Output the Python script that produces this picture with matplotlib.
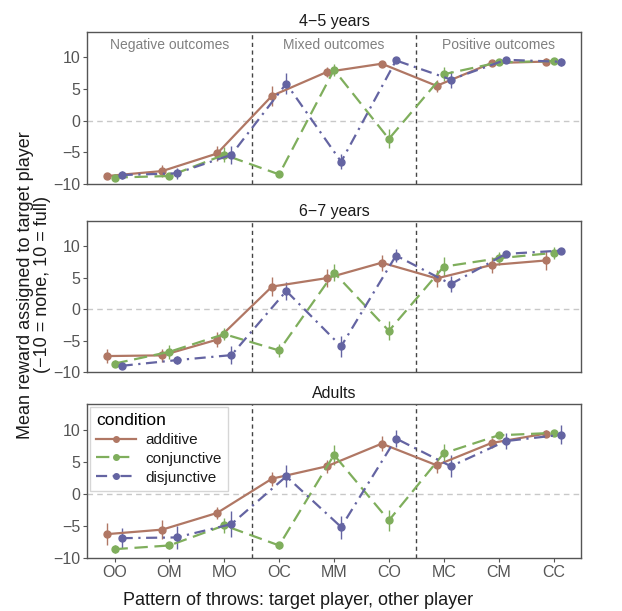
import matplotlib
matplotlib.use("Agg")
import matplotlib.pyplot as plt
import numpy as np

plt.rcParams['font.family'] = ['Liberation Sans', 'DejaVu Sans']

categories = ["OO", "OM", "MO", "OC", "MM", "CO", "MC", "CM", "CC"]
conditions = ["additive", "conjunctive", "disjunctive"]
panels = ["4\u22125 years", "6\u22127 years", "Adults"]
regions = ["Negative outcomes", "Mixed outcomes", "Positive outcomes"]

# means[panel][condition]
add_45 = [-8.75, -7.97, -5.2, 3.9, 7.66, 8.96, 5.47, 9.06, 9.3]
con_45 = [-9.0, -8.75, -5.4, -8.5, 8.0, -2.9, 7.3, 9.17, 9.4]
dis_45 = [-8.6, -8.33, -5.4, 5.83, -6.5, 9.48, 6.46, 9.58, 9.27]
add_45_err = [0.5, 1.0, 1.2, 1.6, 0.8, 0.4, 1.0, 0.4, 0.5]
con_45_err = [0.5, 0.5, 1.2, 0.4, 0.9, 1.5, 1.1, 0.3, 0.4]
dis_45_err = [0.7, 0.9, 1.4, 1.6, 1.2, 0.3, 1.3, 0.3, 0.6]

add_67 = [-7.45, -7.34, -4.84, 3.6, 4.95, 7.4, 4.9, 7.03, 7.76]
con_67 = [-8.65, -6.77, -3.96, -6.56, 5.83, -3.44, 6.77, 8.1, 8.96]
dis_67 = [-9.0, -8.1, -7.3, 2.9, -5.9, 8.54, 4.0, 8.8, 9.32]
add_67_err = [1.1, 1.0, 1.2, 1.5, 1.4, 1.3, 1.3, 1.3, 1.5]
con_67_err = [0.6, 1.1, 1.0, 1.0, 1.3, 1.5, 1.5, 1.0, 1.0]
dis_67_err = [0.5, 0.6, 1.4, 1.5, 1.7, 1.0, 1.3, 0.5, 0.4]

add_ad = [-6.3, -5.6, -3.0, 2.34, 4.27, 7.8, 4.43, 7.9, 9.38]
con_ad = [-8.65, -8.07, -4.95, -8.07, 6.04, -4.17, 6.3, 9.1, 9.48]
dis_ad = [-6.93, -6.82, -4.74, 2.7, -5.2, 8.6, 4.27, 8.2, 9.17]
add_ad_err = [1.7, 1.5, 1.0, 1.1, 1.0, 1.2, 1.2, 0.8, 0.6]
con_ad_err = [0.6, 0.6, 1.2, 0.5, 1.6, 1.6, 1.5, 0.4, 0.3]
dis_ad_err = [1.6, 1.8, 2.0, 1.7, 1.8, 1.4, 1.7, 1.2, 1.5]

means = [[add_45, con_45, dis_45], [add_67, con_67, dis_67], [add_ad, con_ad, dis_ad]]
errs = [[add_45_err, con_45_err, dis_45_err], [add_67_err, con_67_err, dis_67_err],
        [add_ad_err, con_ad_err, dis_ad_err]]

colors = ["#b07764", "#7fae5c", "#6464a2"]
dashes = [None, (6, 3), (5, 2.5, 1, 2.5)]
offsets = [-0.13, 0.0, 0.13]

fig = plt.figure(figsize=(6.22, 6.11), dpi=100)
boxes = [(0.140, 0.699, 0.794, 0.249), (0.140, 0.391, 0.794, 0.247), (0.140, 0.087, 0.794, 0.252)]
frame_col = "#555555"
tick_col = "#555555"
x = np.arange(len(categories))
axes = []
for p, box in enumerate(boxes):
    ax = fig.add_axes(box)
    axes.append(ax)
    ax.set_xlim(-0.5, 8.5)
    ax.set_ylim(-10, 14)
    ax.axhline(0, color="#c8c8c8", lw=1.0, ls=(0, (4, 3)), zorder=1)
    for xv in (2.5, 5.5):
        ax.axvline(xv, color="#444444", lw=1.0, ls=(0, (3, 2.5)), zorder=1)
    for c in range(3):
        xs = x + offsets[c]
        ax.errorbar(xs, means[p][c], yerr=errs[p][c], fmt='none', ecolor=colors[c],
                    elinewidth=1.0, capsize=0, zorder=3)
        line, = ax.plot(xs, means[p][c], color=colors[c], lw=1.6, marker='o', ms=5,
                        label=conditions[c], zorder=4)
        if dashes[c] is not None:
            line.set_dashes(dashes[c])
    ax.set_title(panels[p], fontsize=11.5, color="#1a1a1a", pad=4)
    ax.set_yticks([-10, -5, 0, 5, 10])
    ax.set_yticklabels(["\u221210", "\u22125", "0", "5", "10"])
    ax.tick_params(axis='y', labelsize=11.5, colors=tick_col, length=3, width=0.8, pad=2)
    ax.set_xticks(x)
    if p == 2:
        ax.set_xticklabels(categories)
        ax.tick_params(axis='x', labelsize=11.5, colors=tick_col, length=3, width=0.8, pad=2)
    else:
        ax.set_xticklabels([])
        ax.tick_params(axis='x', length=0)
    for s in ax.spines.values():
        s.set_color(frame_col)
        s.set_linewidth(1.0)

for i, r in enumerate(regions):
    axes[0].text(1 + 3 * i, 11.9, r, ha='center', va='center', fontsize=10, color="#808080")

leg = axes[2].legend(loc='upper left', title="condition", fontsize=11, title_fontsize=12.5,
                     frameon=True, fancybox=False, handlelength=2.6, borderaxespad=0.2,
                     labelspacing=0.32, borderpad=0.4, alignment='left', markerscale=0.8,
                     handletextpad=0.6)
leg.get_frame().set_edgecolor("#cccccc")
leg.get_frame().set_linewidth(1.0)
for t in leg.get_texts():
    t.set_color("#1a1a1a")

axes[2].set_xlabel("Pattern of throws: target player, other player", fontsize=13,
                   color="#1a1a1a", labelpad=8)
axes[2].xaxis.set_label_coords(0.427, -0.22)
fig.text(0.055, 0.534, "Mean reward assigned to target player\n(\u221210 = none, 10 = full)",
         rotation=90, ha='center', va='center', fontsize=13, color="#1a1a1a", linespacing=1.0)

fig.savefig("out.png", dpi=100)
